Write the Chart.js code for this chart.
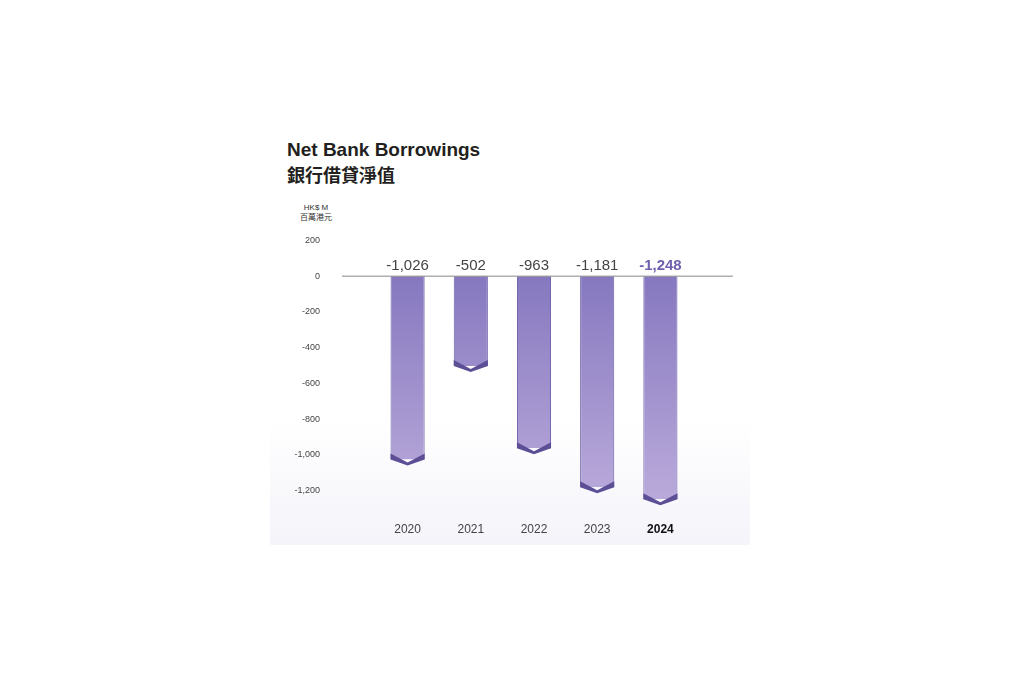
<!DOCTYPE html>
<html>
<head>
<meta charset="utf-8">
<script src="https://cdn.jsdelivr.net/npm/chart.js@4"></script>
<style>
  body { margin: 0; width: 1020px; height: 680px; background: #fff; font-family: "Liberation Sans", Arial, sans-serif; position: relative; }
  .title { position: absolute; left: 287px; top: 138px; font-size: 19px; font-weight: bold; color: #231f20; line-height: 24px; }
  .title .zh { font-family: "Noto Sans CJK TC", sans-serif; font-size: 18px; }
  .unit { position: absolute; left: 300px; top: 203px; font-size: 8px; color: #333; text-align: center; line-height: 10px; font-family: "Liberation Sans", "Noto Sans CJK TC", sans-serif; }
  .bg { position: absolute; left: 270px; top: 420px; width: 480px; height: 125px; background: linear-gradient(#ffffff, #f4f4fa); }
  #wrap { position: absolute; left: 270px; top: 187px; width: 480px; height: 375px; }
</style>
</head>
<body>
<div class="bg"></div>
<div class="title">Net Bank Borrowings<br><span class="zh">銀行借貸淨值</span></div>
<div class="unit">HK$ M<br>百萬港元</div>
<div id="wrap"><canvas id="chart"></canvas></div>
<script>
// data
const years = ['2020', '2021', '2022', '2023', '2024'];
const borrowings = [-1026, -502, -963, -1181, -1248];
const valueLabels = ['-1,026', '-502', '-963', '-1,181', '-1,248'];

// zero line + value labels + bar bottoms
const extrasPlugin = {
    id: 'extras',
    afterDatasetsDraw(chart) {
        const ctx = chart.ctx;
        const y = chart.scales.y;
        const area = chart.chartArea;
        const zeroY = y.getPixelForValue(0);
        ctx.save();
        ctx.strokeStyle = '#888';
        ctx.lineWidth = 1;
        ctx.beginPath();
        ctx.moveTo(area.left - 34, zeroY);
        ctx.lineTo(area.right + 41, zeroY);
        ctx.stroke();

        const meta = chart.getDatasetMeta(0);
        meta.data.forEach((bar, i) => {
            const half = bar.width / 2;
            // bottom bevel
            ctx.fillStyle = '#5d4f96';
            ctx.beginPath();
            ctx.moveTo(bar.x - half, bar.y - 6);
            ctx.lineTo(bar.x, bar.y + 3);
            ctx.lineTo(bar.x + half, bar.y - 6);
            ctx.lineTo(bar.x + half, bar.y);
            ctx.lineTo(bar.x, bar.y + 6);
            ctx.lineTo(bar.x - half, bar.y);
            ctx.closePath();
            ctx.fill();

            const last = i === years.length - 1;
            ctx.font = (last ? 'bold ' : '') + '15px "Liberation Sans", Arial, sans-serif';
            ctx.fillStyle = last ? '#6f5fae' : '#444';
            ctx.textAlign = 'center';
            ctx.textBaseline = 'bottom';
            ctx.fillText(valueLabels[i], bar.x, zeroY - 3);
        });
        ctx.restore();
    }
};

const ctx = document.getElementById('chart').getContext('2d');
new Chart(ctx, {
    type: 'bar',
    data: {
        labels: years,
        datasets: [{
            data: borrowings,
            backgroundColor: (c) => {
                const a = c.chart.chartArea;
                if (!a) return '#8f7fc4';
                const g = c.chart.ctx.createLinearGradient(0, a.top, 0, a.bottom);
                g.addColorStop(0, '#7e70bb');
                g.addColorStop(1, '#bcacdc');
                return g;
            },
            borderColor: '#6a5ca8',
            borderWidth: { left: 1, right: 1 },
            barPercentage: 0.54,
            categoryPercentage: 1
        }]
    },
    options: {
        responsive: true,
        maintainAspectRatio: false,
        animation: false,
        layout: { padding: { top: 10, right: 58, bottom: 0, left: 0 } },
        plugins: { legend: { display: false }, tooltip: { enabled: false } },
        scales: {
            x: {
                grid: { display: false },
                border: { display: false },
                afterFit: (s) => { s.height = 35; },
                ticks: {
                    padding: 6,
                    color: (c) => c.index === 4 ? '#111' : '#444',
                    font: (c) => ({ size: 12, weight: c.index === 4 ? 'bold' : 'normal', family: '"Liberation Sans", Arial, sans-serif' })
                }
            },
            y: {
                min: -1300,
                max: 200,
                grid: { display: false },
                border: { display: false },
                afterFit: (s) => { s.width = 106; },
                afterBuildTicks: (s) => {
                    s.ticks = [200, 0, -200, -400, -600, -800, -1000, -1200].map(v => ({ value: v }));
                },
                ticks: {
                    padding: 48,
                    color: '#444',
                    font: { size: 9, family: '"Liberation Sans", Arial, sans-serif' },
                    callback: (v) => v.toLocaleString('en-US')
                }
            }
        }
    },
    plugins: [extrasPlugin]
});
</script>
</body>
</html>
